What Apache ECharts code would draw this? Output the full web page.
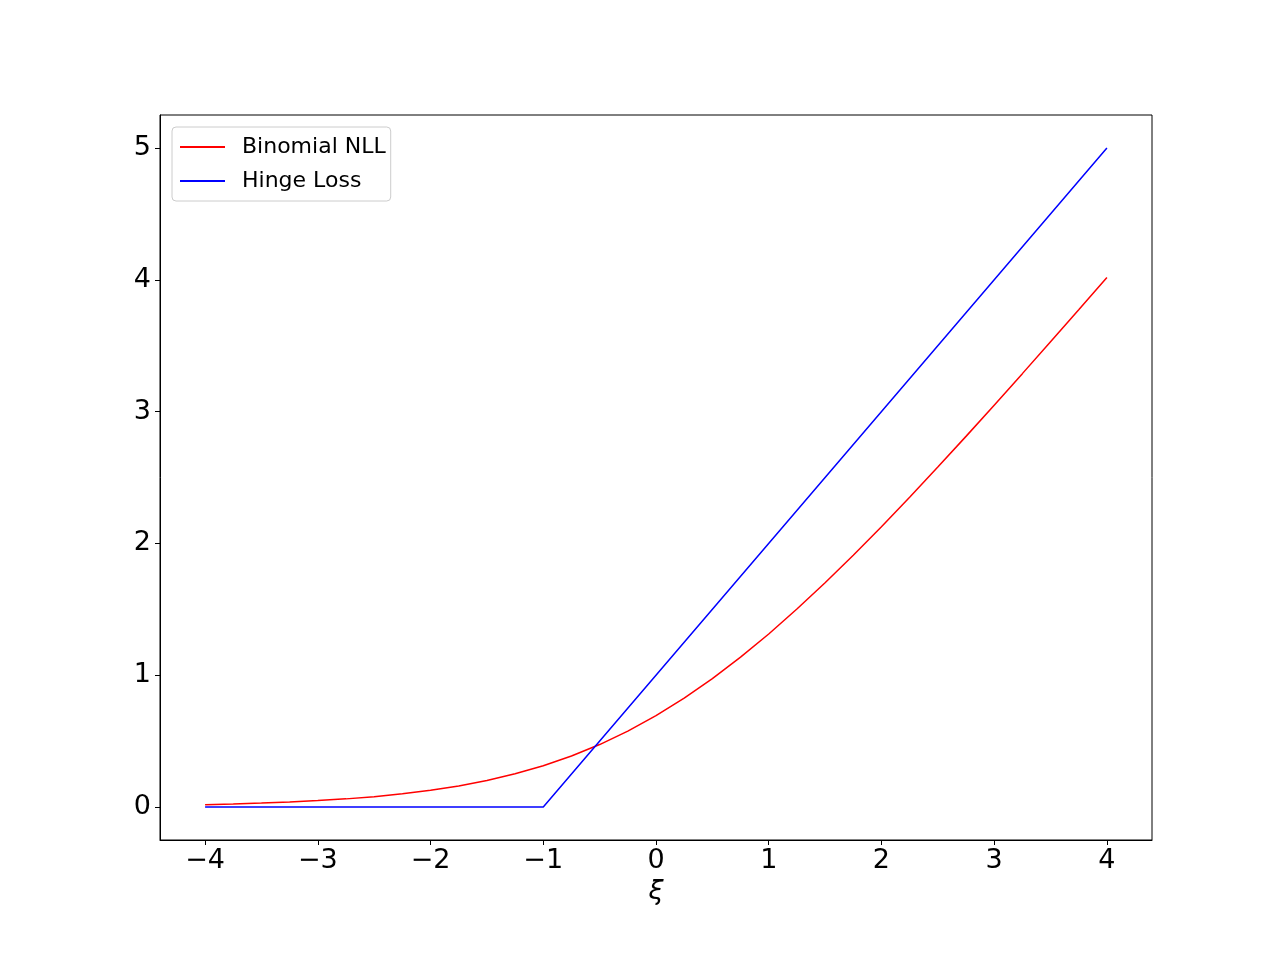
<!DOCTYPE html>
<html>
<head>
<meta charset="utf-8">
<script src="https://cdn.jsdelivr.net/npm/echarts@6/dist/echarts.min.js"></script>
<style>
  html, body { margin: 0; padding: 0; background: #fff; }
  #chart { width: 1280px; height: 960px; }
</style>
</head>
<body>
<div id="chart"></div>
<script>
(function () {
  'use strict';

  // values
  const xs = [-4, -3.75, -3.5, -3.25, -3, -2.75, -2.5, -2.25, -2, -1.75, -1.5, -1.25, -1,
    -0.75, -0.5, -0.25, 0, 0.25, 0.5, 0.75, 1, 1.25, 1.5, 1.75, 2, 2.25, 2.5, 2.75, 3,
    3.25, 3.5, 3.75, 4];
  const nll = [0.018, 0.023, 0.030, 0.038, 0.049, 0.062, 0.079, 0.100, 0.127, 0.160, 0.201,
    0.252, 0.313, 0.387, 0.474, 0.576, 0.693, 0.826, 0.974, 1.137, 1.313, 1.502, 1.701,
    1.910, 2.127, 2.350, 2.579, 2.812, 3.049, 3.288, 3.530, 3.773, 4.018];
  const hingeX = [-4, -1, 4];
  const hingeY = [0, 0, 5];
  const xTicks = [-4, -3, -2, -1, 0, 1, 2, 3, 4];
  const yTicks = [0, 1, 2, 3, 4, 5];

  const font = 'DejaVu Sans';
  const fmt = function (v) { return v < 0 ? '\u2212' + Math.abs(v) : String(v); };

  const chart = echarts.init(document.getElementById('chart'), null, { renderer: 'canvas' });
  chart.setOption({
    animation: false,
    backgroundColor: '#ffffff',
    grid: {
      left: 160, top: 115, width: 992, height: 725,
      show: true, borderColor: '#000', borderWidth: 1, backgroundColor: 'transparent'
    },
    legend: {
      left: 172, top: 127,
      orient: 'vertical',
      icon: 'rect',
      itemWidth: 45, itemHeight: 2,
      itemGap: 10,
      padding: [8, 5, 8, 8],
      backgroundColor: '#fff',
      borderColor: '#cccccc', borderWidth: 1, borderRadius: 4,
      textStyle: { fontFamily: font, fontSize: 22, color: '#000', lineHeight: 24, padding: [0, 0, 0, 12] },
      data: ['Binomial NLL', 'Hinge Loss']
    },
    xAxis: {
      type: 'value', min: -4.4, max: 4.4,
      name: 'ξ', nameLocation: 'middle', nameGap: 32,
      nameTextStyle: { fontFamily: font, fontSize: 27, fontStyle: 'italic', color: '#000' },
      axisLine: { show: true, onZero: false, lineStyle: { color: '#000', width: 1 } },
      axisTick: { show: true, length: 5, lineStyle: { color: '#000' }, customValues: xTicks },
      axisLabel: { fontFamily: font, fontSize: 27, color: '#000', margin: 7, customValues: xTicks, formatter: fmt },
      splitLine: { show: false }
    },
    yAxis: {
      type: 'value', min: -0.25, max: 5.25,
      axisLine: { show: true, onZero: false, lineStyle: { color: '#000', width: 1 } },
      axisTick: { show: true, length: 5, lineStyle: { color: '#000' }, customValues: yTicks },
      axisLabel: { fontFamily: font, fontSize: 27, color: '#000', margin: 9, padding: [3, 0, 0, 0], customValues: yTicks, formatter: fmt },
      splitLine: { show: false }
    },
    series: [
      {
        name: 'Binomial NLL', type: 'line', showSymbol: false, symbol: 'none',
        color: '#ff0000', lineStyle: { width: 1.5, color: '#ff0000' },
        data: xs.map(function (x, i) { return [x, nll[i]]; })
      },
      {
        name: 'Hinge Loss', type: 'line', showSymbol: false, symbol: 'none',
        color: '#0000ff', lineStyle: { width: 1.5, color: '#0000ff' },
        data: hingeX.map(function (x, i) { return [x, hingeY[i]]; })
      }
    ]
  });
  window.addEventListener('resize', function () { chart.resize(); });
})();
</script>
</body>
</html>
